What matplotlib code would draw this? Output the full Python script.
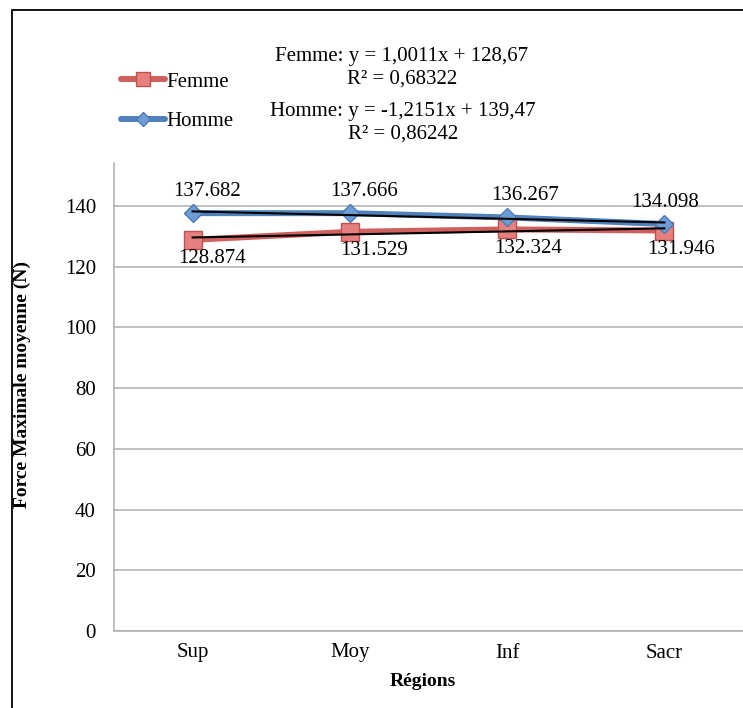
import matplotlib
matplotlib.use("Agg")
import matplotlib.pyplot as plt
import numpy as np
from matplotlib.patches import Rectangle

# data
regions = ["Sup", "Moy", "Inf", "Sacr"]
femme = [128.874, 131.529, 132.324, 131.946]
homme = [137.682, 137.666, 136.267, 134.098]
yticks = [0, 20, 40, 60, 80, 100, 120, 140]

plt.rcParams['font.family'] = ['Liberation Serif', 'DejaVu Serif']

W, H = 743, 708
fig = plt.figure(figsize=(W / 100, H / 100), dpi=100)

# axes placed in pixel terms
left, right, top, bottom = 114, 743, 163, 631
ax = fig.add_axes([left / W, 1 - bottom / H, (right - left) / W, (bottom - top) / H])

x = np.arange(len(regions))
red_line, red_face, red_edge = '#D0605E', '#E5807E', '#C0504D'
blue_line, blue_face, blue_edge = '#4F81BD', '#6E9DD6', '#4A7AB5'

ax.plot(x, femme, color=red_line, lw=4.3, marker='s', markersize=12.5,
        markerfacecolor=red_face, markeredgecolor=red_edge, markeredgewidth=1,
        label="Femme", zorder=3, solid_capstyle='round')
ax.plot(x, homme, color=blue_line, lw=4.3, marker='D', markersize=9,
        markerfacecolor=blue_face, markeredgecolor=blue_edge, markeredgewidth=1,
        label="Homme", zorder=4, solid_capstyle='round')


def fmt(v, d):
    return f"{v:.{d}f}".replace('.', ',')


# linear trend lines (Excel x = 1..n)
xs = x + 1
eqs = []
for name, vals in [("Femme", femme), ("Homme", homme)]:
    vals = np.array(vals)
    a, b = np.polyfit(xs, vals, 1)
    pred = a * xs + b
    r2 = 1 - np.sum((vals - pred) ** 2) / np.sum((vals - vals.mean()) ** 2)
    ax.plot(x, pred, color='black', lw=1.5, zorder=5)
    sign = '+' if b >= 0 else '-'
    eqs.append(f"{name}: y = {fmt(a, 4)}x {sign} {fmt(abs(b), 2)}\nR² = {fmt(r2, 5)}")

# data labels
dx_h = [14, 14, 18, 1]
dx_f = [19, 24, 21, 17]
for i in range(len(regions)):
    ax.annotate(f"{homme[i]:.3f}", (x[i], homme[i]), xytext=(dx_h[i], 22),
                textcoords='offset pixels', ha='center', va='center', fontsize=15)
    ax.annotate(f"{femme[i]:.3f}", (x[i], femme[i]), xytext=(dx_f[i], -19),
                textcoords='offset pixels', ha='center', va='center', fontsize=15)

ax.set_xlim(-0.5, 3.5)
ax.set_ylim(0, 154.2)
ax.set_yticks(yticks)
ax.set_xticks(x)
ax.set_xticklabels(regions)
ax.tick_params(axis='y', length=0, pad=13, labelsize=15)
ax.tick_params(axis='x', length=0, pad=9, labelsize=15)
ax.grid(axis='y', color='#ADADAD', lw=1.1)
ax.set_axisbelow(True)
for s in ['top', 'right']:
    ax.spines[s].set_visible(False)
for s in ['left', 'bottom']:
    ax.spines[s].set_color('#ADADAD')
    ax.spines[s].set_linewidth(1.1)

fig.text(22 / W, 1 - 384 / H, "Force Maximale moyenne (N)", rotation=90,
         ha='center', va='center', fontsize=14, fontweight='bold')
fig.text(423 / W, 1 - 682 / H, "Régions", ha='center', va='center',
         fontsize=14, fontweight='bold')

# legend
fig.legend(loc='upper left', bbox_to_anchor=(121 / W, 1 - 72 / H), frameon=False,
           fontsize=15, handlelength=2.1, handletextpad=0.1, labelspacing=0.95,
           borderpad=0, borderaxespad=0, markerscale=0.8)

# trend equations
fig.text(402 / W, 1 - 68 / H, eqs[0], ha='center', va='center', fontsize=15, linespacing=1.25)
fig.text(403 / W, 1 - 123 / H, eqs[1], ha='center', va='center', fontsize=15, linespacing=1.25)

# outer frame
fig.patches.append(Rectangle((12 / W, -0.1), 1.0, (H - 10) / H + 0.1,
                             transform=fig.transFigure, fill=False,
                             edgecolor='black', lw=1.3))

fig.savefig("out.png", dpi=100)
